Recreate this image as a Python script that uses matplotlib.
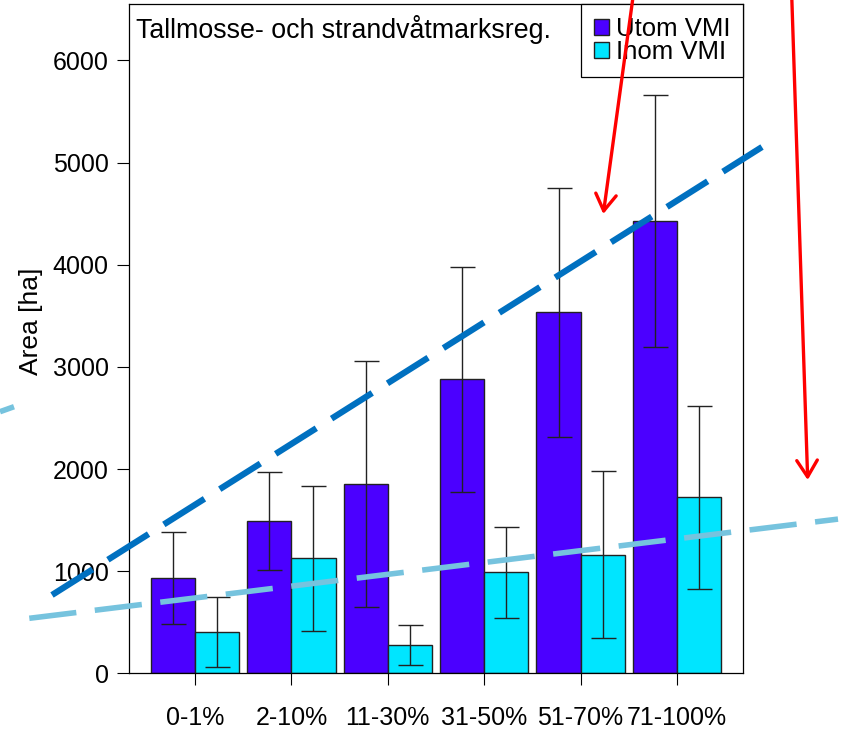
import matplotlib
matplotlib.use('Agg')
import matplotlib.pyplot as plt
from matplotlib.patches import FancyArrowPatch
import numpy as np

plt.rcParams['font.family'] = ['Liberation Sans', 'DejaVu Sans']
plt.rcParams['lines.scale_dashes'] = False

# ---- data ----
categories = ['0-1%', '2-10%', '11-30%', '31-50%', '51-70%', '71-100%']
utom = [931, 1493, 1853, 2879, 3536, 4428]
utom_err = [450, 478, 1203, 1102, 1218, 1234]
inom = [402, 1127, 275, 990, 1163, 1722]
inom_err = [343, 711, 197, 446, 815, 898]
series_labels = ['Utom VMI', 'Inom VMI']
title_text = 'Tallmosse- och strandvåtmarksreg.'
ylabel_text = 'Area [ha]'
yticks = [0, 1000, 2000, 3000, 4000, 5000, 6000]

# ---- overlay annotations (figure pixel coordinates) ----
dark_line = [(52, 595), (762, 147)]
light_line = [(29.3, 618.3), (838, 519.1)]
light_stub = [(0, 411.7), (14, 406.7)]
red_arrows = [((633.3, -5), (603.3, 214)), ((791.7, -5), (807.7, 480))]

W, H = 845, 731
fig = plt.figure(figsize=(W / 100, H / 100), dpi=100)
ax = fig.add_axes([129 / W, 1 - 673.3 / H, (743 - 129) / W, (673.3 - 4.3) / H])

x = np.arange(len(categories))
bw = 0.458
c_utom = '#4B00FF'
c_inom = '#00E5FF'
b1 = ax.bar(x - bw / 2, utom, bw, color=c_utom, edgecolor='#222222', linewidth=1.0,
            label=series_labels[0], zorder=2)
b2 = ax.bar(x + bw / 2, inom, bw, color=c_inom, edgecolor='#222222', linewidth=1.0,
            label=series_labels[1], zorder=2)
ax.errorbar(x - bw / 2, utom, yerr=utom_err, fmt='none', ecolor='#222222',
            elinewidth=1.0, capsize=9, capthick=1.0, zorder=3)
ax.errorbar(x + bw / 2, inom, yerr=inom_err, fmt='none', ecolor='#222222',
            elinewidth=1.0, capsize=9, capthick=1.0, zorder=3)

ax.set_xlim(-0.685, len(categories) - 1 + 0.685)
ax.set_ylim(0, 6550)
ax.set_yticks(yticks)
ax.set_yticklabels([str(v) for v in yticks])
ax.set_xticks(x)
ax.set_xticklabels(categories)
ax.tick_params(axis='both', direction='out', length=8.6, width=0.8, labelsize=18,
               colors='black')
ax.tick_params(axis='y', pad=6)
ax.tick_params(axis='x', pad=15)
for s in ax.spines.values():
    s.set_linewidth(0.9)
    s.set_color('black')

ax.text(0.011, 0.984, title_text, transform=ax.transAxes, ha='left', va='top',
        fontsize=19.3)

leg = ax.legend(handles=[b1, b2], loc='upper right', borderaxespad=0, frameon=True,
                fancybox=False, edgecolor='black', framealpha=1, fontsize=18.5,
                handlelength=0.6, handleheight=0.6, handletextpad=0.25,
                labelspacing=-0.04, borderpad=0.5)
leg.get_frame().set_linewidth(0.9)

fig.text(31 / W, 1 - 321 / H, ylabel_text, rotation=90, ha='center', va='center',
         fontsize=19)

# ---- overlay ----
ov = fig.add_axes([0, 0, 1, 1], zorder=10)
ov.set_xlim(0, W)
ov.set_ylim(H, 0)
ov.axis('off')
ov.patch.set_alpha(0)

(xa, ya), (xb, yb) = dark_line
ov.plot([xa, xb], [ya, yb], color='#0070C0', lw=4.5, dashes=(34.6, 13.0),
        dash_capstyle='butt')
(xa, ya), (xb, yb) = light_line
ov.plot([xa, xb], [ya, yb], color='#76C3DE', lw=4.0, dashes=(34.1, 13.4),
        dash_capstyle='butt')
(xa, ya), (xb, yb) = light_stub
ov.plot([xa, xb], [ya, yb], color='#76C3DE', lw=4.0, solid_capstyle='butt')

for (p0, p1) in red_arrows:
    arr = FancyArrowPatch(p0, p1, arrowstyle='->,head_length=11.9,head_width=7.4',
                          mutation_scale=1, color='#FF0000', lw=2.4,
                          shrinkA=0, shrinkB=0)
    ov.add_patch(arr)

fig.savefig('out.png', dpi=100)
